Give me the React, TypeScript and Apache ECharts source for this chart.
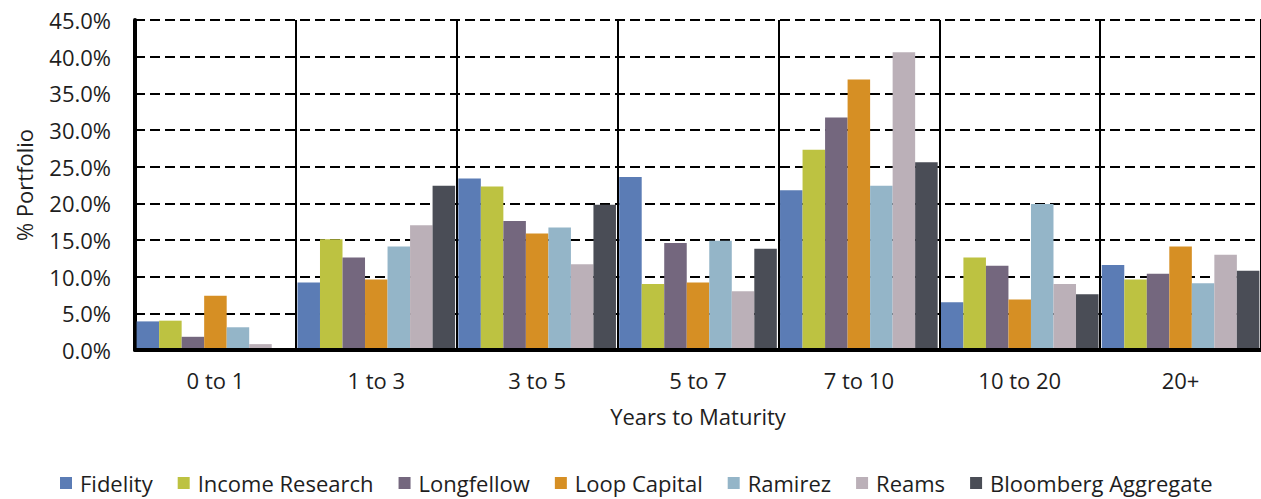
import React, { useEffect, useRef } from "react";
import * as echarts from "echarts";

const categories = ["0 to 1", "1 to 3", "3 to 5", "5 to 7", "7 to 10", "10 to 20", "20+"];
const seriesNames = ["Fidelity", "Income Research", "Longfellow", "Loop Capital", "Ramirez", "Reams", "Bloomberg Aggregate"];
const colors = ["#5b7cb5", "#bdc241", "#74677e", "#d68f24", "#94b5c8", "#bbb0b8", "#4a4d56"];

const fidelity = [3.9, 9.2, 23.4, 23.6, 21.8, 6.5, 11.6];
const incomeResearch = [4.0, 15.1, 22.3, 9.0, 27.3, 12.6, 9.6];
const longfellow = [1.8, 12.6, 17.6, 14.6, 31.7, 11.5, 10.4];
const loopCapital = [7.4, 9.6, 15.9, 9.2, 36.9, 6.9, 14.1];
const ramirez = [3.1, 14.1, 16.7, 14.9, 22.4, 19.9, 9.1];
const reams = [0.8, 17.0, 11.7, 8.0, 40.6, 9.0, 13.0];
const bloomberg = [0.0, 22.4, 19.8, 13.8, 25.6, 7.6, 10.8];

const seriesData = [fidelity, incomeResearch, longfellow, loopCapital, ramirez, reams, bloomberg];

const yTicks = { min: 0, max: 45, interval: 5 };

const FONT = "Open Sans";
const TXT = "#1e1e1e";
const FS = 22;

export default function App() {
  const ref = useRef<HTMLDivElement>(null);
  useEffect(() => {
    if (!ref.current) return;
    const chart = echarts.init(ref.current, undefined, { renderer: "svg" });
    chart.setOption({
      animation: false,
      textStyle: { fontFamily: FONT },
      grid: { left: 135, right: -1, top: 20, bottom: 149, containLabel: false },
      legend: {
        top: 467,
        left: 55,
        itemWidth: 12,
        itemHeight: 12,
        itemGap: 25,
        icon: "rect",
        textStyle: { fontSize: FS, lineHeight: 22, color: TXT, fontFamily: FONT, padding: [0, 0, 0, 3] },
        data: seriesNames,
      },
      xAxis: {
        type: "category",
        z: 3,
        data: categories,
        name: "Years to Maturity",
        nameLocation: "middle",
        nameGap: 55,
        nameTextStyle: { fontSize: FS, color: TXT, fontFamily: FONT },
        axisLine: { show: true, lineStyle: { color: "#000", width: 4 } },
        axisTick: { show: false },
        axisLabel: { fontSize: FS, color: TXT, margin: 19, interval: 0, fontFamily: FONT },
        splitLine: { show: true, interval: 0, lineStyle: { color: "#000", width: 2, type: "solid" } },
      },
      yAxis: {
        type: "value",
        min: yTicks.min,
        max: yTicks.max,
        interval: yTicks.interval,
        name: "% Portfolio",
        nameLocation: "middle",
        nameGap: 100,
        nameTextStyle: { fontSize: FS, color: TXT, fontFamily: FONT },
        axisLine: { show: true, lineStyle: { color: "#000", width: 4 } },
        axisTick: { show: false },
        axisLabel: {
          fontSize: FS,
          color: TXT,
          margin: 24,
          fontFamily: FONT,
          formatter: (v: number) => v.toFixed(1) + "%",
        },
        splitLine: { show: true, lineStyle: { color: "#000", width: 2, type: [10, 5] } },
      },
      series: seriesNames.map((name, i) => ({
        name,
        type: "bar",
        data: seriesData[i],
        barGap: "0%",
        barCategoryGap: "2%",
        itemStyle: { color: colors[i], borderWidth: 0 },
      })),
    });
    return () => chart.dispose();
  }, []);
  return (
    <div
      ref={ref}
      style={{ position: "absolute", left: 0, top: 0, width: 1261, height: 499, background: "#fff" }}
    />
  );
}
